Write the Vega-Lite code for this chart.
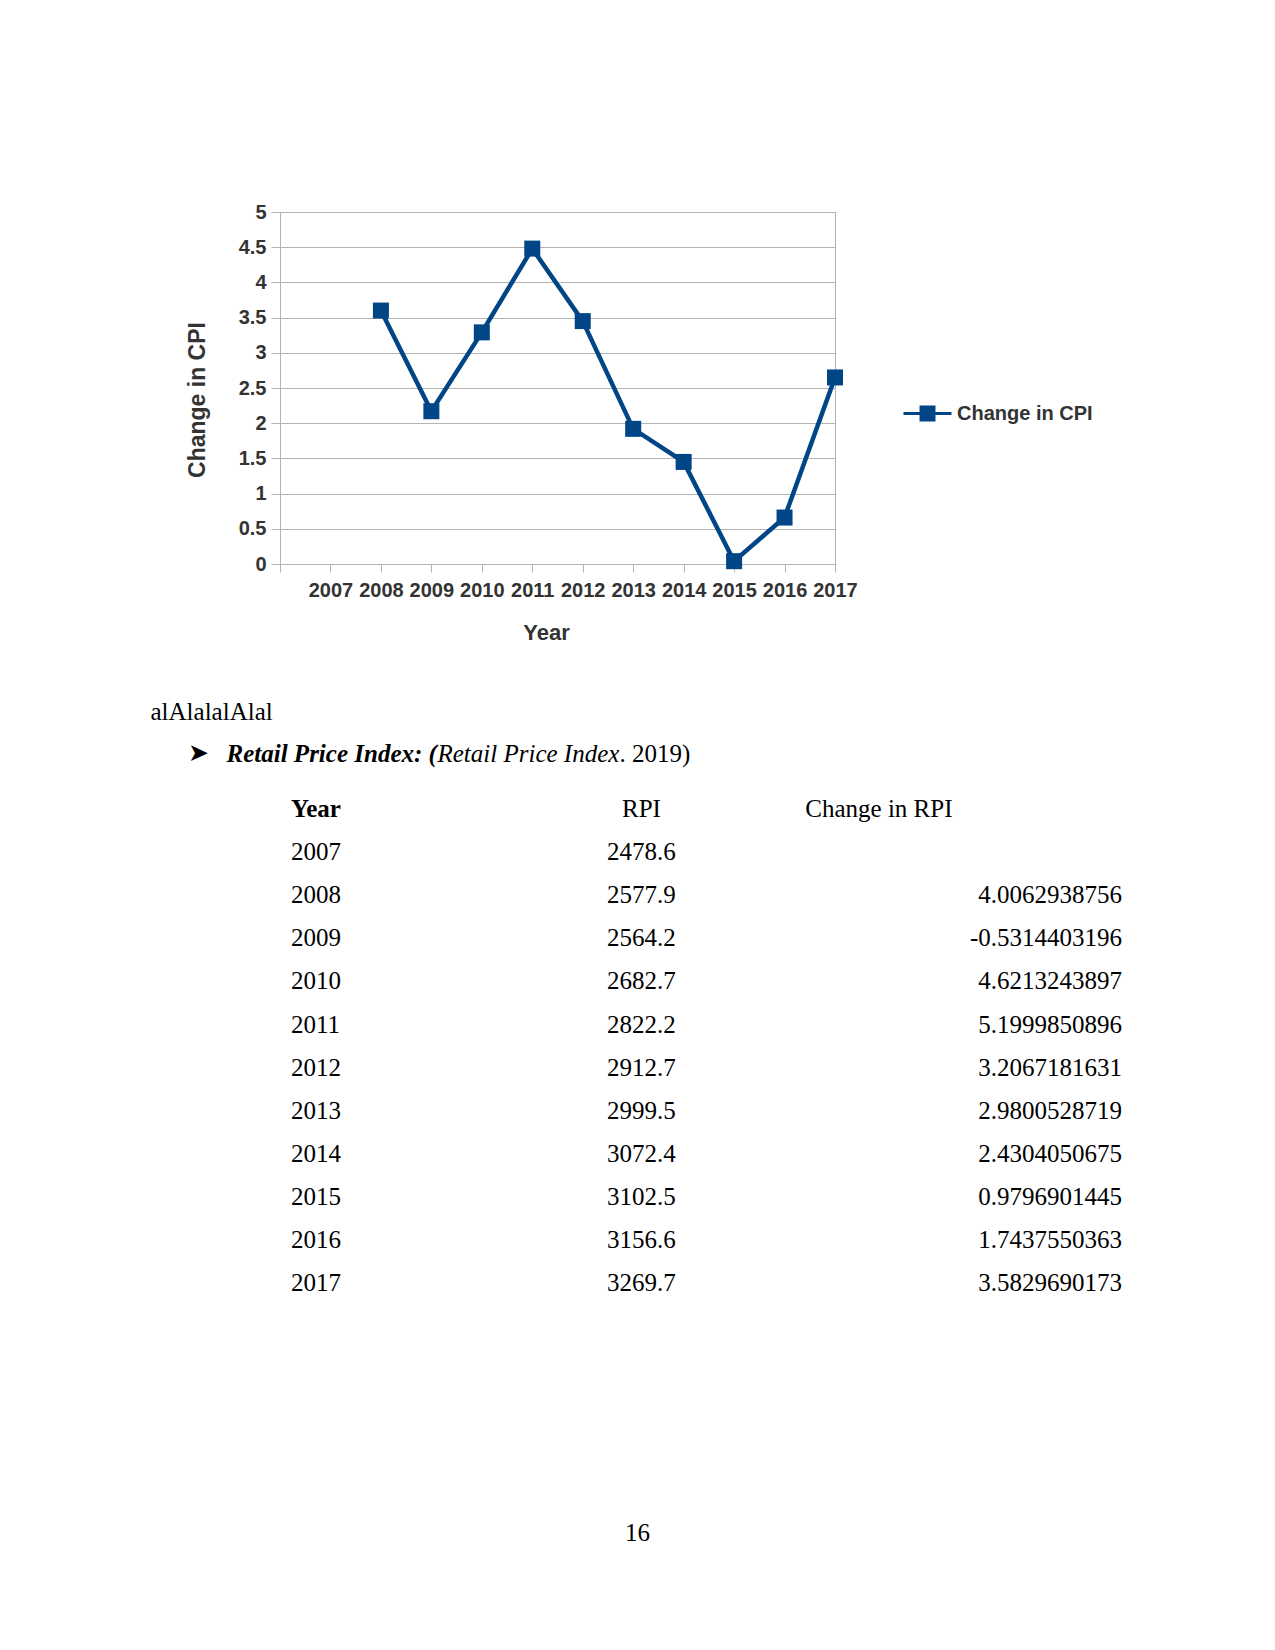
{
  "$schema": "https://vega.github.io/schema/vega-lite/v6.json",
  "background": "white",
  "padding": {"left": 150, "top": 201, "right": 5, "bottom": 5},
  "spacing": 56,
  "datasets": {
    "cpi": [
      {"Year": 2008, "CPI": 3.60},
      {"Year": 2009, "CPI": 2.17},
      {"Year": 2010, "CPI": 3.29},
      {"Year": 2011, "CPI": 4.48},
      {"Year": 2012, "CPI": 3.45},
      {"Year": 2013, "CPI": 1.92},
      {"Year": 2014, "CPI": 1.45},
      {"Year": 2015, "CPI": 0.04},
      {"Year": 2016, "CPI": 0.66},
      {"Year": 2017, "CPI": 2.65}
    ],
    "rpi": [
      {"Year": "2007", "RPI": "2478.6", "Change": ""},
      {"Year": "2008", "RPI": "2577.9", "Change": "4.0062938756"},
      {"Year": "2009", "RPI": "2564.2", "Change": "-0.5314403196"},
      {"Year": "2010", "RPI": "2682.7", "Change": "4.6213243897"},
      {"Year": "2011", "RPI": "2822.2", "Change": "5.1999850896"},
      {"Year": "2012", "RPI": "2912.7", "Change": "3.2067181631"},
      {"Year": "2013", "RPI": "2999.5", "Change": "2.9800528719"},
      {"Year": "2014", "RPI": "3072.4", "Change": "2.4304050675"},
      {"Year": "2015", "RPI": "3102.5", "Change": "0.9796901445"},
      {"Year": "2016", "RPI": "3156.6", "Change": "1.7437550363"},
      {"Year": "2017", "RPI": "3269.7", "Change": "3.5829690173"}
    ],
    "headers": [
      {"col": "Year"},
      {"col": "RPI"},
      {"col": "Change in RPI"}
    ],
    "page": [
      {"part": "prose", "text": "alAlalalAlal"},
      {"part": "bullet", "text": "➤"},
      {"part": "label", "text": "Retail Price Index: ("},
      {"part": "source", "text": "Retail Price Index"},
      {"part": "tail", "text": ". 2019)"},
      {"part": "pagenum", "text": "16"}
    ]
  },
  "vconcat": [
    {
      "width": 555,
      "height": 352,
      "data": {"name": "cpi"},
      "encoding": {
        "x": {
          "field": "Year", "type": "quantitative",
          "scale": {"domain": [2006, 2017], "nice": false, "zero": false},
          "axis": {
            "values": [2006, 2007, 2008, 2009, 2010, 2011, 2012, 2013, 2014, 2015, 2016, 2017],
            "format": "d",
            "labelExpr": "datum.value == 2006 ? '' : datum.label",
            "labelOverlap": false,
            "labelFlush": false,
            "grid": false,
            "title": "Year",
            "titleFontSize": 22,
            "titleX": 266,
            "titleY": 68,
            "titleBaseline": "middle",
            "titleAnchor": "middle",
            "labelPadding": 8,
            "tickSize": 8
          }
        },
        "y": {
          "field": "CPI", "type": "quantitative",
          "scale": {"domain": [0, 5], "nice": false},
          "axis": {
            "values": [0, 0.5, 1, 1.5, 2, 2.5, 3, 3.5, 4, 4.5, 5],
            "format": "~g",
            "labelOverlap": false,
            "labelFlush": false,
            "title": "Change in CPI",
            "titleX": -82.5,
            "titleY": 187.5,
            "titleBaseline": "middle",
            "titleAnchor": "middle",
            "titleFontSize": 23,
            "tickSize": 9,
            "labelPadding": 5,
            "grid": true
          }
        },
        "color": {
          "datum": "Change in CPI", "type": "nominal",
          "scale": {"range": ["#004586"]},
          "legend": {
            "orient": "none",
            "legendX": 622,
            "legendY": 176,
            "title": null,
            "padding": 0,
            "symbolType": "M -1 0 L 1 0 M -0.27 -0.27 L 0.27 -0.27 L 0.27 0.27 L -0.27 0.27 Z",
            "symbolSize": 2304,
            "symbolStrokeWidth": 3,
            "symbolFillColor": "#004586",
            "symbolStrokeColor": "#004586",
            "labelOffset": 4,
            "labelFont": "Liberation Sans",
            "labelFontSize": 20,
            "labelFontWeight": "bold",
            "labelColor": "#333333"
          }
        }
      },
      "layer": [
        {"mark": {"type": "line", "strokeWidth": 4.5, "color": "#004586"}},
        {"mark": {"type": "point", "shape": "square", "filled": true, "size": 256, "opacity": 1, "color": "#004586"}}
      ]
    },
    {
      "width": 842,
      "height": 517,
      "view": {"stroke": null},
      "layer": [
        {
          "data": {"name": "rpi"},
          "mark": {"type": "text", "align": "left", "baseline": "middle", "font": "Liberation Serif", "fontSize": 25, "fill": "#000000"},
          "encoding": {
            "x": {"datum": "Year", "type": "nominal", "bandPosition": 0.039, "axis": null,
                  "scale": {"type": "band", "domain": ["Year", "RPI", "Change in RPI"], "paddingInner": 0, "paddingOuter": 0}},
            "y": {"field": "Year", "type": "ordinal", "axis": null,
                  "scale": {"type": "point", "domain": ["heading", "header", "2007", "2008", "2009", "2010", "2011", "2012", "2013", "2014", "2015", "2016", "2017"], "padding": 0}},
            "text": {"field": "Year"}
          }
        },
        {
          "data": {"name": "rpi"},
          "mark": {"type": "text", "align": "center", "baseline": "middle", "font": "Liberation Serif", "fontSize": 25, "fill": "#000000"},
          "encoding": {
            "x": {"datum": "RPI", "type": "nominal", "bandPosition": 0.288, "axis": null,
                  "scale": {"type": "band", "domain": ["Year", "RPI", "Change in RPI"], "paddingInner": 0, "paddingOuter": 0}},
            "y": {"field": "Year", "type": "ordinal", "axis": null,
                  "scale": {"type": "point", "domain": ["heading", "header", "2007", "2008", "2009", "2010", "2011", "2012", "2013", "2014", "2015", "2016", "2017"], "padding": 0}},
            "text": {"field": "RPI"}
          }
        },
        {
          "data": {"name": "rpi"},
          "mark": {"type": "text", "align": "right", "baseline": "middle", "font": "Liberation Serif", "fontSize": 25, "fill": "#000000"},
          "encoding": {
            "x": {"datum": "Change in RPI", "type": "nominal", "bandPosition": 1, "axis": null,
                  "scale": {"type": "band", "domain": ["Year", "RPI", "Change in RPI"], "paddingInner": 0, "paddingOuter": 0}},
            "y": {"field": "Year", "type": "ordinal", "axis": null,
                  "scale": {"type": "point", "domain": ["heading", "header", "2007", "2008", "2009", "2010", "2011", "2012", "2013", "2014", "2015", "2016", "2017"], "padding": 0}},
            "text": {"field": "Change"}
          }
        },
        {
          "data": {"name": "headers"},
          "transform": [{"filter": "datum.col == 'Year'"}],
          "mark": {"type": "text", "align": "left", "baseline": "middle", "font": "Liberation Serif", "fontSize": 25, "fontWeight": "bold", "fill": "#000000"},
          "encoding": {
            "x": {"field": "col", "type": "nominal", "bandPosition": 0.039, "axis": null,
                  "scale": {"type": "band", "domain": ["Year", "RPI", "Change in RPI"], "paddingInner": 0, "paddingOuter": 0}},
            "y": {"datum": "header", "type": "ordinal", "axis": null,
                  "scale": {"type": "point", "domain": ["heading", "header", "2007", "2008", "2009", "2010", "2011", "2012", "2013", "2014", "2015", "2016", "2017"], "padding": 0}},
            "text": {"field": "col"}
          }
        },
        {
          "data": {"name": "headers"},
          "transform": [{"filter": "datum.col == 'RPI'"}],
          "mark": {"type": "text", "align": "center", "baseline": "middle", "font": "Liberation Serif", "fontSize": 25, "fill": "#000000"},
          "encoding": {
            "x": {"field": "col", "type": "nominal", "bandPosition": 0.288, "axis": null,
                  "scale": {"type": "band", "domain": ["Year", "RPI", "Change in RPI"], "paddingInner": 0, "paddingOuter": 0}},
            "y": {"datum": "header", "type": "ordinal", "axis": null,
                  "scale": {"type": "point", "domain": ["heading", "header", "2007", "2008", "2009", "2010", "2011", "2012", "2013", "2014", "2015", "2016", "2017"], "padding": 0}},
            "text": {"field": "col"}
          }
        },
        {
          "data": {"name": "headers"},
          "transform": [{"filter": "datum.col == 'Change in RPI'"}],
          "mark": {"type": "text", "align": "right", "baseline": "middle", "font": "Liberation Serif", "fontSize": 25, "fill": "#000000"},
          "encoding": {
            "x": {"field": "col", "type": "nominal", "bandPosition": 0.396, "axis": null,
                  "scale": {"type": "band", "domain": ["Year", "RPI", "Change in RPI"], "paddingInner": 0, "paddingOuter": 0}},
            "y": {"datum": "header", "type": "ordinal", "axis": null,
                  "scale": {"type": "point", "domain": ["heading", "header", "2007", "2008", "2009", "2010", "2011", "2012", "2013", "2014", "2015", "2016", "2017"], "padding": 0}},
            "text": {"field": "col"}
          }
        },
        {
          "data": {"name": "page"},
          "transform": [{"filter": "datum.part == 'prose'"}],
          "mark": {"type": "text", "align": "left", "baseline": "middle", "font": "Liberation Serif", "fontSize": 25, "fill": "#000000", "dx": -129.5, "dy": -54},
          "encoding": {
            "x": {"datum": "Year", "type": "nominal", "bandPosition": 0, "axis": null,
                  "scale": {"type": "band", "domain": ["Year", "RPI", "Change in RPI"], "paddingInner": 0, "paddingOuter": 0}},
            "y": {"datum": "heading", "type": "ordinal", "axis": null,
                  "scale": {"type": "point", "domain": ["heading", "header", "2007", "2008", "2009", "2010", "2011", "2012", "2013", "2014", "2015", "2016", "2017"], "padding": 0}},
            "text": {"field": "text"}
          }
        },
        {
          "data": {"name": "page"},
          "transform": [{"filter": "datum.part == 'bullet'"}],
          "mark": {"type": "text", "align": "left", "baseline": "middle", "font": "DejaVu Sans", "fontSize": 25, "fill": "#000000", "dx": -92, "dy": -13},
          "encoding": {
            "x": {"datum": "Year", "type": "nominal", "bandPosition": 0, "axis": null,
                  "scale": {"type": "band", "domain": ["Year", "RPI", "Change in RPI"], "paddingInner": 0, "paddingOuter": 0}},
            "y": {"datum": "heading", "type": "ordinal", "axis": null,
                  "scale": {"type": "point", "domain": ["heading", "header", "2007", "2008", "2009", "2010", "2011", "2012", "2013", "2014", "2015", "2016", "2017"], "padding": 0}},
            "text": {"field": "text"}
          }
        },
        {
          "data": {"name": "page"},
          "transform": [{"filter": "datum.part == 'label'"}],
          "mark": {"type": "text", "align": "left", "baseline": "middle", "font": "Liberation Serif", "fontSize": 25, "fontWeight": "bold", "fontStyle": "italic", "fill": "#000000", "dx": -53.5, "dy": -12},
          "encoding": {
            "x": {"datum": "Year", "type": "nominal", "bandPosition": 0, "axis": null,
                  "scale": {"type": "band", "domain": ["Year", "RPI", "Change in RPI"], "paddingInner": 0, "paddingOuter": 0}},
            "y": {"datum": "heading", "type": "ordinal", "axis": null,
                  "scale": {"type": "point", "domain": ["heading", "header", "2007", "2008", "2009", "2010", "2011", "2012", "2013", "2014", "2015", "2016", "2017"], "padding": 0}},
            "text": {"field": "text"}
          }
        },
        {
          "data": {"name": "page"},
          "transform": [{"filter": "datum.part == 'source'"}],
          "mark": {"type": "text", "align": "left", "baseline": "middle", "font": "Liberation Serif", "fontSize": 25, "fontStyle": "italic", "fill": "#000000", "dx": 157.5, "dy": -12},
          "encoding": {
            "x": {"datum": "Year", "type": "nominal", "bandPosition": 0, "axis": null,
                  "scale": {"type": "band", "domain": ["Year", "RPI", "Change in RPI"], "paddingInner": 0, "paddingOuter": 0}},
            "y": {"datum": "heading", "type": "ordinal", "axis": null,
                  "scale": {"type": "point", "domain": ["heading", "header", "2007", "2008", "2009", "2010", "2011", "2012", "2013", "2014", "2015", "2016", "2017"], "padding": 0}},
            "text": {"field": "text"}
          }
        },
        {
          "data": {"name": "page"},
          "transform": [{"filter": "datum.part == 'tail'"}],
          "mark": {"type": "text", "align": "left", "baseline": "middle", "font": "Liberation Serif", "fontSize": 25, "fill": "#000000", "dx": 339.5, "dy": -12},
          "encoding": {
            "x": {"datum": "Year", "type": "nominal", "bandPosition": 0, "axis": null,
                  "scale": {"type": "band", "domain": ["Year", "RPI", "Change in RPI"], "paddingInner": 0, "paddingOuter": 0}},
            "y": {"datum": "heading", "type": "ordinal", "axis": null,
                  "scale": {"type": "point", "domain": ["heading", "header", "2007", "2008", "2009", "2010", "2011", "2012", "2013", "2014", "2015", "2016", "2017"], "padding": 0}},
            "text": {"field": "text"}
          }
        },
        {
          "data": {"name": "page"},
          "transform": [{"filter": "datum.part == 'pagenum'"}],
          "mark": {"type": "text", "align": "center", "baseline": "middle", "font": "Liberation Serif", "fontSize": 25, "fill": "#000000", "dy": 250},
          "encoding": {
            "x": {"datum": "RPI", "type": "nominal", "bandPosition": 0.274, "axis": null,
                  "scale": {"type": "band", "domain": ["Year", "RPI", "Change in RPI"], "paddingInner": 0, "paddingOuter": 0}},
            "y": {"datum": "2017", "type": "ordinal", "axis": null,
                  "scale": {"type": "point", "domain": ["heading", "header", "2007", "2008", "2009", "2010", "2011", "2012", "2013", "2014", "2015", "2016", "2017"], "padding": 0}},
            "text": {"field": "text"}
          }
        }
      ]
    }
  ],
  "config": {
    "view": {"stroke": "#b3b3b3"},
    "font": "Liberation Sans",
    "axis": {
      "labelFont": "Liberation Sans",
      "labelFontSize": 20,
      "labelFontWeight": "bold",
      "labelColor": "#333333",
      "titleFont": "Liberation Sans",
      "titleFontSize": 22,
      "titleFontWeight": "bold",
      "titleColor": "#333333",
      "domainColor": "#b3b3b3",
      "tickColor": "#b3b3b3",
      "gridColor": "#b3b3b3",
      "gridOpacity": 1,
      "domainWidth": 1,
      "tickWidth": 1
    }
  }
}
